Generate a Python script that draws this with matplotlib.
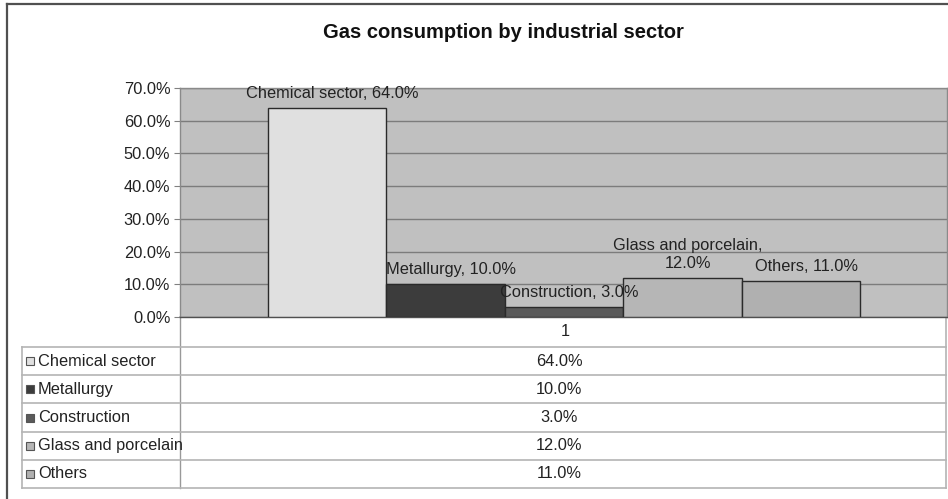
import numpy as np
import matplotlib.pyplot as plt
from matplotlib.lines import Line2D
from matplotlib.patches import Rectangle

plt.rcParams['font.family'] = ['Liberation Sans', 'DejaVu Sans']

# data
sectors = ['Chemical sector', 'Metallurgy', 'Construction', 'Glass and porcelain', 'Others']
shares = [64.0, 10.0, 3.0, 12.0, 11.0]
bar_labels = ['Chemical sector, 64.0%', 'Metallurgy, 10.0%', 'Construction, 3.0%',
              'Glass and porcelain,\n12.0%', 'Others, 11.0%']
category = '1'
yticks = [0, 10, 20, 30, 40, 50, 60, 70]

bar_colors = ['#e0e0e0', '#3c3c3c', '#5a5a5a', '#b6b6b6', '#b0b0b0']

W, H = 948, 499
FS = 11.8
fig = plt.figure(figsize=(W / 100, H / 100), dpi=100)


def fx(px):
    return px / W


def fy(py):
    return 1 - py / H


# outer frame (only left and top edges are visible)
fig.add_artist(Line2D([fx(7), fx(7)], [fy(4), fy(499)], color='#505050', lw=1.6))
fig.add_artist(Line2D([fx(7), fx(948)], [fy(4), fy(4)], color='#505050', lw=1.6))

fig.text(fx(503), fy(33), 'Gas consumption by industrial sector', ha='center', va='center',
         fontsize=14.5, fontweight='bold', color='#111111')

# main plot area
ax = fig.add_axes([fx(180), fy(317), fx(947) - fx(180), fy(88) - fy(317)])
ax.set_facecolor('#c0c0c0')
ax.set_xlim(-3.24, 3.23)
ax.set_ylim(0, 70)

x = np.arange(len(shares)) - (len(shares) - 1) / 2
bars = ax.bar(x, shares, width=1.0, color=bar_colors, edgecolor='#2a2a2a', linewidth=1.0, zorder=3)

for b, lab in zip(bars, bar_labels):
    ax.annotate(lab, (b.get_x() + b.get_width() / 2, b.get_height()), xytext=(4, 5),
                textcoords='offset points', ha='center', va='bottom', fontsize=FS,
                color='#222222', linespacing=1.25, zorder=4)

ax.set_yticks(yticks)
ax.set_yticklabels([f'{v:.1f}%' for v in yticks], fontsize=FS, color='#222222')
ax.set_xticks([])
ax.grid(axis='y', color='#7c7c7c', lw=1.0, zorder=1)
ax.tick_params(axis='y', length=4, width=0.8, color='#808080', pad=3)
for s in ax.spines.values():
    s.set_color('#8a8a8a')
    s.set_linewidth(1.0)
ax.spines['bottom'].set_color('#505050')

# data table below the plot
tab = fig.add_axes([0, 0, 1, 1], zorder=-1)
tab.set_xlim(0, W)
tab.set_ylim(H, 0)
tab.axis('off')

row_top = 347
row_h = 28.2
left, split, right = 22, 180, 946
line_c = '#b4b4b4'
n = len(sectors)

tab.text(565, 332, category, ha='center', va='center', fontsize=FS, color='#222222')
tab.plot([split, right], [317, 317], color=line_c, lw=1.2)
tab.plot([split, split], [317, row_top + row_h * n], color='#999999', lw=1.0)
tab.plot([right, right], [317, row_top + row_h * n], color=line_c, lw=1.2)
tab.plot([left, left], [row_top, row_top + row_h * n], color=line_c, lw=1.2)

for i, (name, val, c) in enumerate(zip(sectors, shares, bar_colors)):
    y0 = row_top + i * row_h
    tab.plot([left, right], [y0, y0], color=line_c, lw=1.2)
    yc = y0 + row_h / 2
    tab.add_patch(Rectangle((26, yc - 4), 8, 8, facecolor=c, edgecolor='#555555', lw=0.8))
    tab.text(38, yc, name, ha='left', va='center', fontsize=FS, color='#222222')
    tab.text(559, yc, f'{val:.1f}%', ha='center', va='center',
             fontsize=FS, color='#222222')
tab.plot([left, right], [row_top + row_h * n] * 2, color=line_c, lw=1.2)

fig.savefig('out.png', dpi=100)
